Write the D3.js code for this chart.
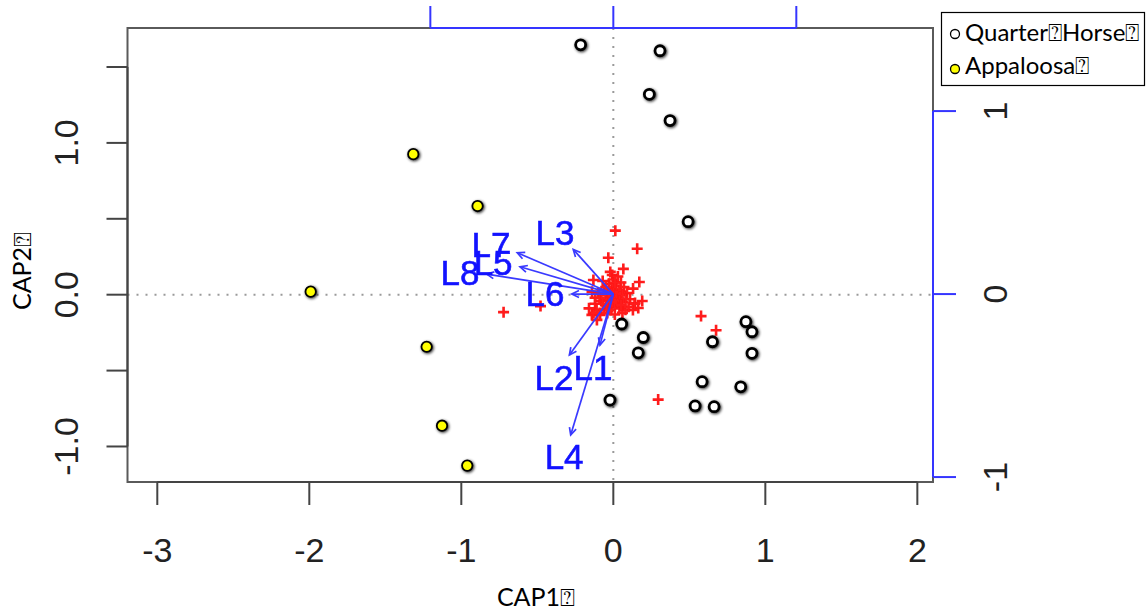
<!DOCTYPE html>
<html>
<head>
<meta charset="utf-8">
<script src="https://cdn.jsdelivr.net/npm/d3@7/dist/d3.min.js"></script>
<style>
  body { margin: 0; background: #fff; }
  svg { display: block; }
  .r-text { font-family: "Liberation Sans", Arial, sans-serif; }
  .ms-text { font-family: "Lato", "Open Sans", sans-serif; }
</style>
</head>
<body>
<div id="chart"></div>
<script>
// site scores (CAP1, CAP2)
const quarterHorse = [
  [-0.215, 1.646], [0.307, 1.607], [0.237, 1.320], [0.373, 1.147], [0.492, 0.481],
  [0.055, -0.193], [0.197, -0.282], [0.164, -0.383], [-0.022, -0.694], [0.652, -0.310],
  [0.872, -0.178], [0.912, -0.244], [0.912, -0.386], [0.584, -0.573], [0.838, -0.607],
  [0.538, -0.733], [0.663, -0.738]
];
const appaloosa = [
  [-1.316, 0.926], [-0.893, 0.584], [-1.991, 0.020], [-1.228, -0.343],
  [-1.127, -0.863], [-0.961, -1.126]
];

// species scores, red crosses
const species = [
  [0.013, 0.422], [0.157, 0.303], [-0.033, 0.243], [0.066, 0.170], [0.171, 0.084],
  [-0.131, 0.097], [-0.007, 0.130], [0.190, -0.042], [0.164, -0.088], [-0.722, -0.115],
  [-0.479, -0.075], [0.577, -0.141], [0.676, -0.234], [0.295, -0.691],
  [-0.087, -0.133], [-0.141, -0.133], [-0.108, -0.166], [0.129, -0.101], [0.143, -0.055],
  [-0.02, 0.01], [0.01, 0.03], [0.03, -0.01], [-0.04, -0.02], [0.00, -0.04],
  [0.05, 0.02], [-0.06, 0.03], [0.02, 0.06], [-0.03, 0.07], [0.06, -0.05],
  [-0.08, -0.04], [0.09, 0.01], [-0.01, -0.08], [0.04, -0.09], [-0.10, 0.01],
  [0.07, 0.05], [-0.05, -0.07], [0.11, -0.03], [0.00, 0.10], [-0.12, -0.06],
  [0.08, -0.10], [-0.07, 0.09], [0.13, 0.04], [0.03, 0.12], [-0.14, 0.02],
  [-0.09, -0.12], [0.01, -0.13], [0.10, -0.08], [-0.02, 0.15], [0.05, 0.08],
  [-0.11, -0.10], [0.14, -0.06], [0.06, -0.12], [-0.03, -0.03], [0.02, -0.02],
  [-0.01, 0.04], [0.04, 0.03], [-0.05, 0.00], [0.03, -0.05],
  [-0.06, -0.10], [-0.04, -0.12], [-0.07, -0.06], [-0.02, -0.10], [0.01, -0.06],
  [-0.09, -0.02], [-0.12, -0.02], [0.06, 0.00], [0.08, -0.03], [0.02, 0.01],
  [-0.01, -0.01], [0.00, 0.02], [-0.03, 0.02], [0.04, -0.04], [-0.05, 0.05],
  [0.05, -0.07], [-0.01, -0.05], [0.01, 0.08], [-0.13, -0.12], [-0.16, -0.09]
];

// biplot arrows, secondary axes
const arrowNames = ['L1', 'L2', 'L3', 'L4', 'L5', 'L6', 'L7', 'L8'];
const arrowTips = [
  [-0.073, -0.279], [-0.240, -0.333], [-0.219, 0.244], [-0.233, -0.770],
  [-0.510, 0.149], [-0.227, 0.000], [-0.525, 0.226], [-0.692, 0.109]
];
const arrowLabels = [
  [-0.111, -0.399], [-0.324, -0.454], [-0.319, 0.339], [-0.269, -0.885],
  [-0.657, 0.175], [-0.373, 0.005], [-0.668, 0.273], [-0.838, 0.120]
];

const xTicks = [-3, -2, -1, 0, 1, 2];
const yTicks = [-1.0, -0.5, 0.0, 0.5, 1.0, 1.5];
const yTickLabels = ['-1.0', '', '0.0', '', '1.0', ''];
const x2Ticks = [-1, 0, 1];
const y2Ticks = [-1, 0, 1];

const legendNames = ['Quarter\u2370Horse\u2370', 'Appaloosa\u2370'];
const legendFills = ['#ffffff', '#ffff00'];
const xTitle = 'CAP1\u2370';
const yTitle = 'CAP2\u2370';

const width = 1147;
const height = 611;
const box = {left: 127.5, right: 933, top: 28, bottom: 482};

const x = d3.scaleLinear().domain([-3.196, 2.103]).range([box.left, box.right]);
const y = d3.scaleLinear().domain([-1.234, 1.757]).range([box.bottom, box.top]);
const x2 = d3.scaleLinear().domain([-2.655, 1.747]).range([box.left, box.right]);
const y2 = d3.scaleLinear().domain([-1.027, 1.454]).range([box.bottom, box.top]);

const svg = d3.select('#chart')
  .append('svg')
  .attr('width', width)
  .attr('height', height);

const defs = svg.append('defs');
const shadow = defs.append('filter').attr('id', 'halo')
  .attr('x', '-60%').attr('y', '-60%').attr('width', '220%').attr('height', '220%');
shadow.append('feGaussianBlur').attr('in', 'SourceAlpha').attr('stdDeviation', 1.8).attr('result', 'b');
shadow.append('feOffset').attr('in', 'b').attr('dx', 1).attr('dy', 1).attr('result', 'o');
shadow.append('feComponentTransfer').attr('in', 'o').attr('result', 's')
  .append('feFuncA').attr('type', 'linear').attr('slope', 0.85);
const merge = shadow.append('feMerge');
merge.append('feMergeNode').attr('in', 's');
merge.append('feMergeNode').attr('in', 'SourceGraphic');

const soft = defs.append('filter').attr('id', 'soft');
soft.append('feGaussianBlur').attr('stdDeviation', 0.5);

// dotted zero lines
svg.append('line')
  .attr('x1', box.left).attr('x2', box.right)
  .attr('y1', y(0)).attr('y2', y(0))
  .attr('stroke', '#9a9a9a').attr('stroke-width', 2)
  .attr('stroke-dasharray', '2,7');
svg.append('line')
  .attr('x1', x(0)).attr('x2', x(0))
  .attr('y1', box.top).attr('y2', box.bottom)
  .attr('stroke', '#9a9a9a').attr('stroke-width', 2)
  .attr('stroke-dasharray', '2,7');

// frame
svg.append('rect')
  .attr('x', box.left).attr('y', box.top)
  .attr('width', box.right - box.left).attr('height', box.bottom - box.top)
  .attr('fill', 'none').attr('stroke', '#5a5a5a').attr('stroke-width', 2)
  .attr('filter', 'url(#soft)');

// bottom axis
const bottomAxis = svg.append('g').attr('class', 'r-text');
bottomAxis.append('line')
  .attr('x1', x(xTicks[0])).attr('x2', x(xTicks[xTicks.length - 1]))
  .attr('y1', box.bottom).attr('y2', box.bottom)
  .attr('stroke', '#444').attr('stroke-width', 2);
bottomAxis.selectAll('line.tick')
  .data(xTicks).enter().append('line')
  .attr('class', 'tick')
  .attr('x1', (d) => x(d)).attr('x2', (d) => x(d))
  .attr('y1', box.bottom).attr('y2', box.bottom + 23)
  .attr('stroke', '#444').attr('stroke-width', 2);
bottomAxis.selectAll('text')
  .data(xTicks).enter().append('text')
  .attr('x', (d) => x(d)).attr('y', 562)
  .attr('text-anchor', 'middle')
  .attr('font-size', 34).attr('fill', '#222')
  .text((d) => d);

// left axis
const leftAxis = svg.append('g').attr('class', 'r-text');
leftAxis.append('line')
  .attr('x1', box.left).attr('x2', box.left)
  .attr('y1', y(yTicks[0])).attr('y2', y(yTicks[yTicks.length - 1]))
  .attr('stroke', '#444').attr('stroke-width', 2);
leftAxis.selectAll('line.tick')
  .data(yTicks).enter().append('line')
  .attr('class', 'tick')
  .attr('x1', box.left).attr('x2', box.left - 21)
  .attr('y1', (d) => y(d)).attr('y2', (d) => y(d))
  .attr('stroke', '#444').attr('stroke-width', 2);
leftAxis.selectAll('text')
  .data(yTicks).enter().append('text')
  .attr('transform', (d) => 'translate(78,' + y(d) + ') rotate(-90)')
  .attr('text-anchor', 'middle')
  .attr('font-size', 34).attr('fill', '#222')
  .text((d, i) => yTickLabels[i]);

// secondary axes for the arrows
const topAxis = svg.append('g');
topAxis.append('line')
  .attr('x1', x2(x2Ticks[0])).attr('x2', x2(x2Ticks[x2Ticks.length - 1]))
  .attr('y1', box.top).attr('y2', box.top)
  .attr('stroke', '#3535ff').attr('stroke-width', 2);
topAxis.selectAll('line.tick')
  .data(x2Ticks).enter().append('line')
  .attr('class', 'tick')
  .attr('x1', (d) => x2(d)).attr('x2', (d) => x2(d))
  .attr('y1', box.top).attr('y2', box.top - 22)
  .attr('stroke', '#3535ff').attr('stroke-width', 2);

const rightAxis = svg.append('g').attr('class', 'r-text');
rightAxis.append('line')
  .attr('x1', box.right).attr('x2', box.right)
  .attr('y1', y2(y2Ticks[0])).attr('y2', y2(y2Ticks[y2Ticks.length - 1]))
  .attr('stroke', '#3535ff').attr('stroke-width', 2);
rightAxis.selectAll('line.tick')
  .data(y2Ticks).enter().append('line')
  .attr('class', 'tick')
  .attr('x1', box.right).attr('x2', box.right + 23)
  .attr('y1', (d) => y2(d)).attr('y2', (d) => y2(d))
  .attr('stroke', '#3535ff').attr('stroke-width', 2);
rightAxis.selectAll('text')
  .data(y2Ticks).enter().append('text')
  .attr('transform', (d) => 'translate(1007,' + y2(d) + ') rotate(-90)')
  .attr('text-anchor', 'middle')
  .attr('font-size', 34).attr('fill', '#222')
  .text((d) => d);

// species crosses
svg.append('g')
  .attr('filter', 'url(#soft)')
  .selectAll('path')
  .data(species).enter().append('path')
  .attr('transform', (d) => 'translate(' + x(d[0]) + ',' + y(d[1]) + ')')
  .attr('d', 'M-5.5,0H5.5M0,-5.5V5.5')
  .attr('stroke', '#ff1a1a').attr('stroke-width', 2.6)
  .attr('fill', 'none');

// arrows
const arrows = svg.append('g').attr('stroke', '#3a3aff').attr('stroke-width', 1.7).attr('fill', 'none');
arrowTips.forEach((tip) => {
  const x0 = x2(0);
  const y0 = y2(0);
  const x1 = x2(tip[0]);
  const y1 = y2(tip[1]);
  const angle = Math.atan2(y1 - y0, x1 - x0);
  const head = 8;
  const spread = Math.PI / 7;
  arrows.append('line')
    .attr('x1', x0).attr('y1', y0).attr('x2', x1).attr('y2', y1);
  arrows.append('path')
    .attr('d', 'M' + (x1 - head * Math.cos(angle - spread)) + ',' + (y1 - head * Math.sin(angle - spread)) +
      'L' + x1 + ',' + y1 +
      'L' + (x1 - head * Math.cos(angle + spread)) + ',' + (y1 - head * Math.sin(angle + spread)));
});

svg.append('g').attr('class', 'r-text')
  .selectAll('text')
  .data(arrowNames).enter().append('text')
  .attr('x', (d, i) => x2(arrowLabels[i][0]))
  .attr('y', (d, i) => y2(arrowLabels[i][1]))
  .attr('dy', '0.36em')
  .attr('text-anchor', 'middle')
  .attr('font-size', 35).attr('fill', '#1212ff')
  .attr('stroke', '#1212ff').attr('stroke-width', 0.6)
  .text((d) => d);

// site points
const sites = svg.append('g').attr('filter', 'url(#halo)');
sites.selectAll('circle.qh')
  .data(quarterHorse).enter().append('circle')
  .attr('class', 'qh')
  .attr('cx', (d) => x(d[0])).attr('cy', (d) => y(d[1]))
  .attr('r', 5)
  .attr('fill', legendFills[0]).attr('stroke', '#000').attr('stroke-width', 2.8);
sites.selectAll('circle.ap')
  .data(appaloosa).enter().append('circle')
  .attr('class', 'ap')
  .attr('cx', (d) => x(d[0])).attr('cy', (d) => y(d[1]))
  .attr('r', 5.2)
  .attr('fill', legendFills[1]).attr('stroke', '#000').attr('stroke-width', 1.8);

// axis titles
svg.append('text').attr('class', 'ms-text')
  .attr('x', 536).attr('y', 606)
  .attr('text-anchor', 'middle')
  .attr('font-size', 25).attr('fill', '#000')
  .text(xTitle);
svg.append('text').attr('class', 'ms-text')
  .attr('transform', 'translate(31,271) rotate(-90)')
  .attr('text-anchor', 'middle')
  .attr('font-size', 25).attr('fill', '#000')
  .text(yTitle);

// legend
const legend = svg.append('g').attr('class', 'ms-text');
legend.append('rect')
  .attr('x', 941.5).attr('y', 12.5).attr('width', 203).attr('height', 73)
  .attr('fill', '#fff').attr('stroke', '#000').attr('stroke-width', 1.2);
legendNames.forEach((name, i) => {
  legend.append('circle')
    .attr('cx', 955).attr('cy', 34 + i * 35).attr('r', 4.5)
    .attr('fill', legendFills[i]).attr('stroke', '#000').attr('stroke-width', 1.3);
  legend.append('text')
    .attr('x', 965).attr('y', 41 + i * 33)
    .attr('font-size', 24).attr('fill', '#000')
    .text(name);
});
</script>
</body>
</html>
